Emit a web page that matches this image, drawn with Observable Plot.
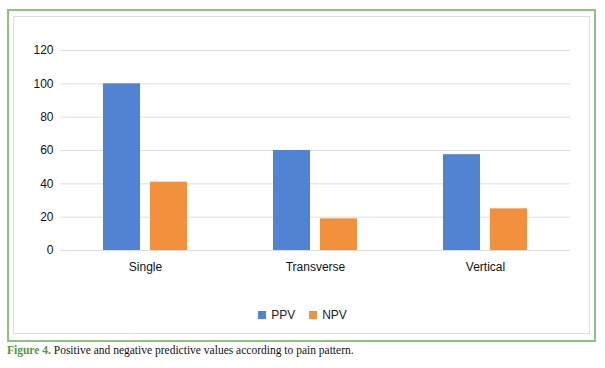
<!DOCTYPE html>
<html>
<head>
<meta charset="utf-8">
<script src="https://cdn.jsdelivr.net/npm/d3@7"></script>
<script src="https://cdn.jsdelivr.net/npm/@observablehq/plot@0.6"></script>
<style>
  html, body { margin: 0; padding: 0; background: #fff; width: 605px; height: 368px; overflow: hidden; }
  #outer { position: absolute; left: 7px; top: 9px; width: 585px; height: 329px; border: 2px solid #8cc47c; }
  #inner { position: absolute; left: 13px; top: 16px; width: 575px; height: 316px; border: 1px solid #dcdcdc; }
  #chart { position: absolute; left: 0; top: 0; }
  #legend { position: absolute; left: 0; width: 605px; top: 308px; text-align: center; font: 12px "Liberation Sans", Arial, sans-serif; color: #222; }
  #legend span.sw { display: inline-block; width: 8px; height: 8px; margin-right: 5px; vertical-align: 0px; }
  #legend span.item { margin: 0 7px; }
  #caption { position: absolute; left: 7px; top: 344px; font: 11.5px "Liberation Serif", "Times New Roman", serif; color: #111; }
  #caption b { color: #4f9a3a; }
</style>
</head>
<body>
<div id="outer"></div>
<div id="inner"></div>
<div id="chart"></div>
<div id="legend"></div>
<div id="caption"><b>Figure 4.</b> Positive and negative predictive values according to pain pattern.</div>
<script>
const categories = ["Single", "Transverse", "Vertical"];
const seriesNames = ["PPV", "NPV"];
const ppv = [100, 60, 57.5];
const npv = [41, 19, 25];
const yTicks = [0, 20, 40, 60, 80, 100, 120];
const colors = ["#5083d1", "#f3903d"];

const data = [];
categories.forEach((c, i) => {
  data.push({category: c, series: "PPV", value: ppv[i]});
  data.push({category: c, series: "NPV", value: npv[i]});
});

const chart = Plot.plot({
  width: 605,
  height: 290,
  marginLeft: 60,
  marginRight: 35,
  marginTop: 50,
  marginBottom: 40,
  style: {fontFamily: "'Liberation Sans', Arial, sans-serif", fontSize: "12px", color: "#111", background: "transparent"},
  fx: {domain: categories, padding: 0, axis: "bottom", label: null, tickSize: 0, tickPadding: 12},
  x: {domain: seriesNames, axis: null, paddingInner: 0.2083, paddingOuter: 0.875},
  y: {domain: [0, 120], ticks: yTicks, tickSize: 0, tickPadding: 7, label: null, grid: false},
  color: {domain: seriesNames, range: colors},
  marks: [
    Plot.ruleY(yTicks, {stroke: "#dedede", strokeWidth: 1}),
    Plot.barY(data, {fx: "category", x: "series", y: "value", fill: "series"})
  ]
});
document.getElementById("chart").appendChild(chart);

const legend = document.getElementById("legend");
seriesNames.forEach((s, i) => {
  const item = document.createElement("span");
  item.className = "item";
  const sw = document.createElement("span");
  sw.className = "sw";
  sw.style.background = colors[i];
  item.appendChild(sw);
  item.appendChild(document.createTextNode(s));
  legend.appendChild(item);
});
</script>
</body>
</html>
